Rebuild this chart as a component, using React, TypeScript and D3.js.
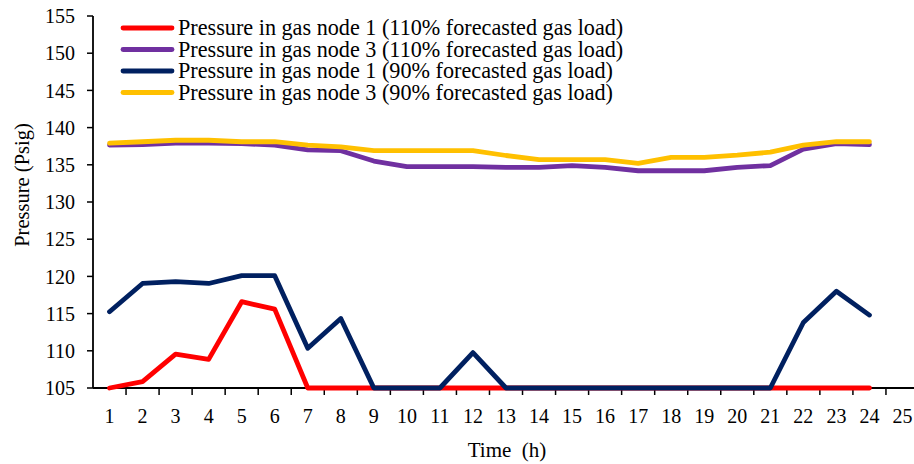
import React from "react";
import { scaleBand, scaleLinear, line } from "d3";

// hours on the category axis
const hours: string[] = Array.from({ length: 25 }, (_, i) => String(i + 1));
const yTicks: number[] = [105, 110, 115, 120, 125, 130, 135, 140, 145, 150, 155];

// values, hours 1..24
const node1High: number[] = [
  105, 105.85, 109.55, 108.85, 116.6, 115.6, 105, 105, 105, 105, 105, 105,
  105, 105, 105, 105, 105, 105, 105, 105, 105, 105, 105, 105,
];
const node3High: number[] = [
  137.65, 137.7, 137.9, 137.9, 137.85, 137.65, 137.0, 136.9, 135.5, 134.75, 134.75, 134.75,
  134.65, 134.65, 134.9, 134.65, 134.2, 134.2, 134.2, 134.65, 134.9, 137.1, 137.85, 137.7,
];
const node1Low: number[] = [
  115.25, 119.05, 119.3, 119.05, 120.1, 120.1, 110.35, 114.35, 105, 105, 105, 109.75,
  105, 105, 105, 105, 105, 105, 105, 105, 105, 113.8, 118.0, 114.8,
];
const node3Low: number[] = [
  137.9, 138.1, 138.3, 138.3, 138.1, 138.1, 137.65, 137.4, 136.9, 136.9, 136.9, 136.9,
  136.25, 135.7, 135.7, 135.7, 135.2, 136.0, 136.0, 136.3, 136.7, 137.65, 138.1, 138.1,
];

const seriesNames: string[] = [
  "Pressure in gas node 1 (110% forecasted gas load)",
  "Pressure in gas node 3 (110% forecasted gas load)",
  "Pressure in gas node 1 (90% forecasted gas load)",
  "Pressure in gas node 3 (90% forecasted gas load)",
];
const seriesColors: string[] = ["#FF0000", "#7030A0", "#002060", "#FFC000"];

const W = 914;
const H = 464;
const font = "'Liberation Serif', 'Times New Roman', serif";

const App: React.FC = () => {
  const left = 93;
  const bandW = 33.04;
  const x = scaleBand<string>()
    .domain(hours)
    .range([left, left + bandW * hours.length])
    .padding(0);
  const y = scaleLinear().domain([105, 155]).range([388, 16]);

  const all = [node1High, node3High, node1Low, node3Low];
  const path = line<number>()
    .x((_, i) => (x(hours[i]) as number) + x.bandwidth() / 2)
    .y((d) => y(d));

  const y0 = y(105);

  return (
    <svg
      width={W}
      height={H}
      style={{ position: "absolute", left: 0, top: 0, background: "#fff" }}
      fontFamily={font}
    >
      {/* axes */}
      <line x1={left} x2={W} y1={y0} y2={y0} stroke="#000" strokeWidth={1.8} />
      <line x1={left} x2={left} y1={y(155)} y2={y0} stroke="#000" strokeWidth={1.8} />
      {yTicks.map((t) => (
        <g key={"y" + t}>
          <line x1={left - 6} x2={left} y1={y(t)} y2={y(t)} stroke="#000" strokeWidth={1.5} />
          <text x={left - 18} y={y(t)} dy="0.36em" textAnchor="end" fontSize={20}>
            {t}
          </text>
        </g>
      ))}
      {hours.map((h) => (
        <g key={"x" + h}>
          <line
            x1={(x(h) as number) + x.bandwidth()}
            x2={(x(h) as number) + x.bandwidth()}
            y1={y0}
            y2={y0 + 7}
            stroke="#000"
            strokeWidth={1.5}
          />
          <text x={(x(h) as number) + x.bandwidth() / 2} y={423} textAnchor="middle" fontSize={20}>
            {h}
          </text>
        </g>
      ))}
      <text x={507} y={457} textAnchor="middle" fontSize={21} style={{ whiteSpace: "pre" }}>
        {"Time  (h)"}
      </text>
      <text
        transform={`translate(29,${185}) rotate(-90)`}
        textAnchor="middle"
        fontSize={20.5}
      >
        Pressure (Psig)
      </text>

      {/* series */}
      {all.map((s, k) => (
        <path
          key={"s" + k}
          d={path(s) as string}
          fill="none"
          stroke={seriesColors[k]}
          strokeWidth={4.8}
          strokeLinejoin="round"
          strokeLinecap="round"
        />
      ))}

      {/* legend */}
      {seriesNames.map((n, k) => {
        const ly = 28 + k * 21.5;
        return (
          <g key={"l" + k}>
            <line x1={123} x2={172} y1={ly} y2={ly} stroke={seriesColors[k]} strokeWidth={4.8} strokeLinecap="round" />
            <text x={178} y={ly} dy="0.33em" fontSize={22.2}>
              {n}
            </text>
          </g>
        );
      })}
    </svg>
  );
};

export default App;
